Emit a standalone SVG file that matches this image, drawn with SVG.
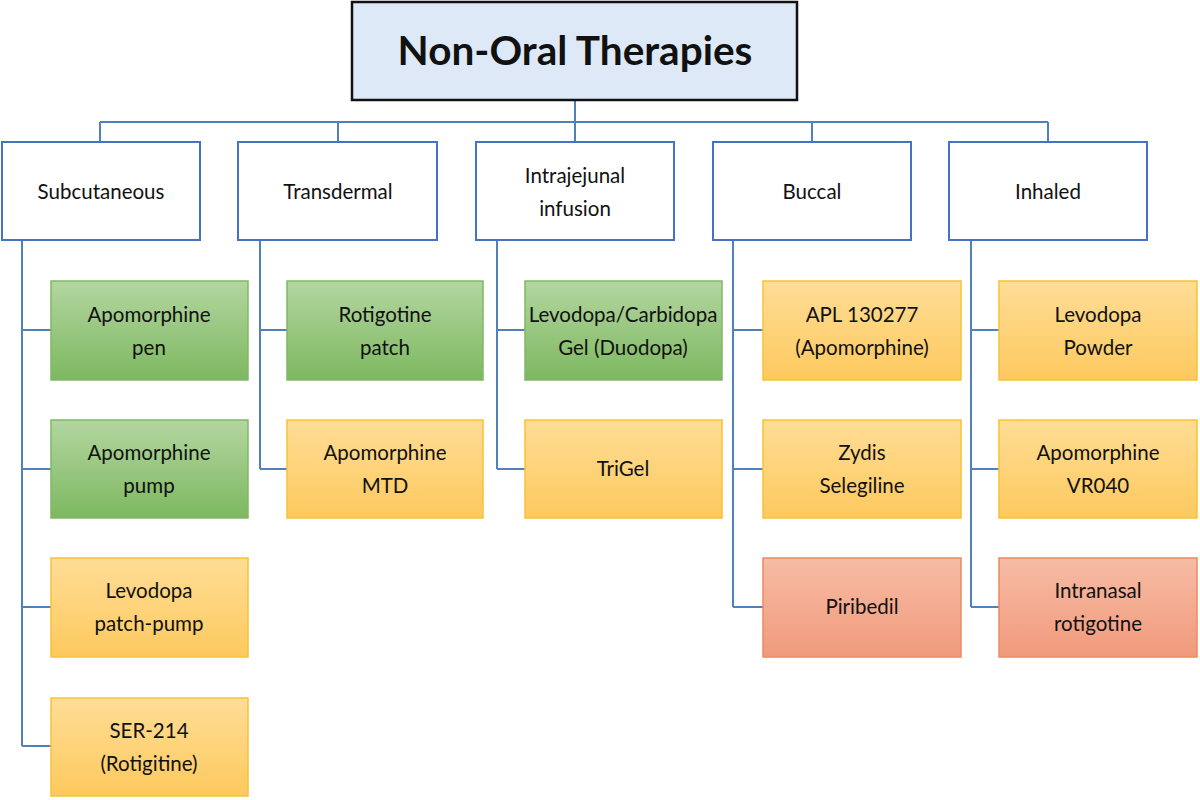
<svg xmlns="http://www.w3.org/2000/svg" width="1200" height="800" viewBox="0 0 1200 800">
<defs>
<linearGradient id="gGreen" x1="0" y1="0" x2="0" y2="1"><stop offset="0" stop-color="#b3d6a0"/><stop offset="1" stop-color="#7db860"/></linearGradient>
<linearGradient id="gOrange" x1="0" y1="0" x2="0" y2="1"><stop offset="0" stop-color="#ffdd96"/><stop offset="1" stop-color="#fdc95e"/></linearGradient>
<linearGradient id="gRed" x1="0" y1="0" x2="0" y2="1"><stop offset="0" stop-color="#f6bca4"/><stop offset="1" stop-color="#f19a7c"/></linearGradient>
</defs>
<style>
text{font-family:Lato,"Open Sans","Liberation Sans",sans-serif;fill:#111;text-anchor:middle}
.root{fill:#dde9f6;stroke:#111;stroke-width:2.5}
.cat{fill:#fff;stroke:#4472c4;stroke-width:2}
.green{fill:url(#gGreen);stroke:#80b866;stroke-width:1.5}
.orange{fill:url(#gOrange);stroke:#f8c234;stroke-width:1.5}
.red{fill:url(#gRed);stroke:#ec8a62;stroke-width:1.5}
.t{font-size:20.5px}
.title{font-size:40.5px;font-weight:bold}
#connectors path{fill:none;stroke:#4f81bd;stroke-width:2}
</style>
<rect width="1200" height="800" fill="#fff"/>
<g id="connectors">
<path d="M575 100V122M100 122H1048M100 122V142M338 122V142M575 122V142M812 122V142M1048 122V142"/>
<path d="M22 240V746M22 330H51M22 469H51M22 607H51M22 746H51"/>
<path d="M260 240V469M260 330H287M260 469H287"/>
<path d="M497 240V469M497 330H525M497 469H525"/>
<path d="M733 240V607M733 330H763M733 469H763M733 607H763"/>
<path d="M971 240V607M971 330H999M971 469H999M971 607H999"/>
</g>
<g id="root"><rect class="root" x="352" y="2" width="445" height="98"/><text class="title" x="575" y="65">Non-Oral Therapies</text></g>
<g id="cat-subcutaneous"><rect class="cat" x="2" y="142" width="198" height="98"/><text class="t" x="101" y="199">Subcutaneous</text></g>
<g id="cat-transdermal"><rect class="cat" x="238" y="142" width="199" height="98"/><text class="t" x="338" y="199">Transdermal</text></g>
<g id="cat-intrajejunal"><rect class="cat" x="476" y="142" width="198" height="98"/><text class="t" x="575" y="183">Intrajejunal</text><text class="t" x="575" y="216">infusion</text></g>
<g id="cat-buccal"><rect class="cat" x="713" y="142" width="198" height="98"/><text class="t" x="812" y="199">Buccal</text></g>
<g id="cat-inhaled"><rect class="cat" x="949" y="142" width="198" height="98"/><text class="t" x="1048" y="199">Inhaled</text></g>

<g id="apomorphine-pen"><rect class="green" x="51" y="281" width="197" height="99"/><text class="t" x="149" y="322">Apomorphine</text><text class="t" x="149" y="355">pen</text></g>
<g id="apomorphine-pump"><rect class="green" x="51" y="420" width="197" height="98"/><text class="t" x="149" y="460">Apomorphine</text><text class="t" x="149" y="493">pump</text></g>
<g id="levodopa-patch-pump"><rect class="orange" x="51" y="558" width="197" height="99"/><text class="t" x="149" y="598">Levodopa</text><text class="t" x="149" y="631">patch-pump</text></g>
<g id="ser-214"><rect class="orange" x="51" y="698" width="197" height="98"/><text class="t" x="149" y="738">SER-214</text><text class="t" x="149" y="771">(Rotigitine)</text></g>

<g id="rotigotine-patch"><rect class="green" x="287" y="281" width="196" height="99"/><text class="t" x="385" y="322">Rotigotine</text><text class="t" x="385" y="355">patch</text></g>
<g id="apomorphine-mtd"><rect class="orange" x="287" y="420" width="196" height="98"/><text class="t" x="385" y="460">Apomorphine</text><text class="t" x="385" y="493">MTD</text></g>

<g id="duodopa"><rect class="green" x="525" y="281" width="197" height="99"/><text class="t" x="623" y="322">Levodopa/Carbidopa</text><text class="t" x="623" y="355">Gel (Duodopa)</text></g>
<g id="trigel"><rect class="orange" x="525" y="420" width="197" height="98"/><text class="t" x="623" y="476">TriGel</text></g>

<g id="apl-130277"><rect class="orange" x="763" y="281" width="198" height="99"/><text class="t" x="862" y="322">APL 130277</text><text class="t" x="862" y="355">(Apomorphine)</text></g>
<g id="zydis-selegiline"><rect class="orange" x="763" y="420" width="198" height="98"/><text class="t" x="862" y="460">Zydis</text><text class="t" x="862" y="493">Selegiline</text></g>
<g id="piribedil"><rect class="red" x="763" y="558" width="198" height="99"/><text class="t" x="862" y="614">Piribedil</text></g>

<g id="levodopa-powder"><rect class="orange" x="999" y="281" width="198" height="99"/><text class="t" x="1098" y="322">Levodopa</text><text class="t" x="1098" y="355">Powder</text></g>
<g id="apomorphine-vr040"><rect class="orange" x="999" y="420" width="198" height="98"/><text class="t" x="1098" y="460">Apomorphine</text><text class="t" x="1098" y="493">VR040</text></g>
<g id="intranasal-rotigotine"><rect class="red" x="999" y="558" width="198" height="99"/><text class="t" x="1098" y="598">Intranasal</text><text class="t" x="1098" y="631">rotigotine</text></g>
</svg>
